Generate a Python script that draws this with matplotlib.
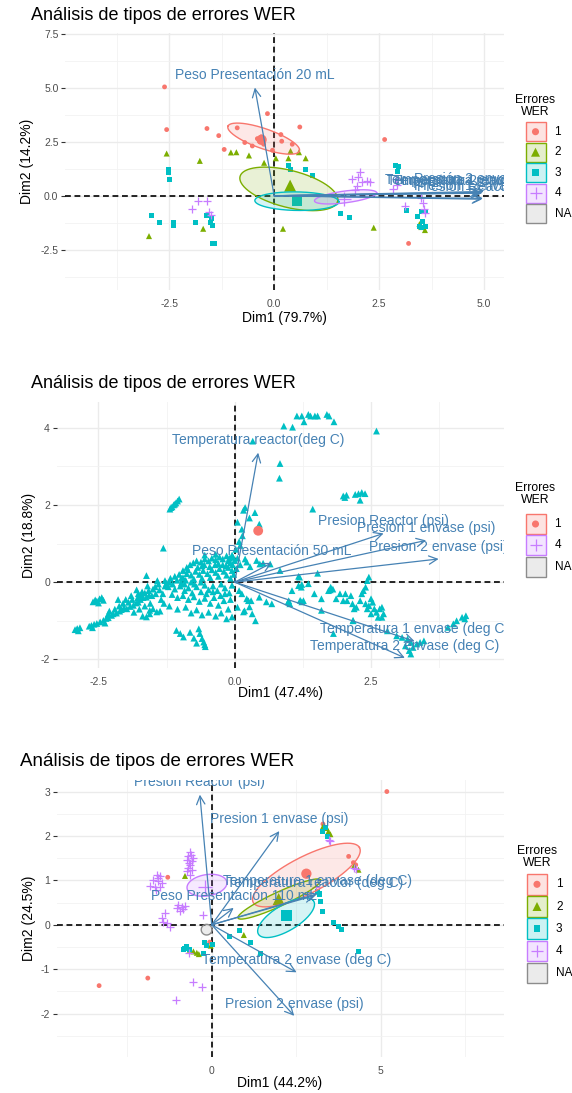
import numpy as np
import matplotlib
matplotlib.use("Agg")
import matplotlib.pyplot as plt
from matplotlib.patches import Rectangle
from matplotlib.colors import to_rgba

plt.rcParams['font.family'] = ['Liberation Sans', 'DejaVu Sans']

W, H = 572, 1093
RED, GREEN, CYAN, PURPLE = '#F8766D', '#7CAE00', '#00BFC4', '#C77CFF'
ARROW = '#4682B4'
NA_GREY = '#8C8C8C'

title = "Análisis de tipos de errores WER"

# ---------------- panel 1 data ----------------
p1_xlabel = "Dim1 (79.7%)"
p1_ylabel = "Dim2 (14.2%)"
p1_xticks = [-2.5, 0.0, 2.5, 5.0]
p1_xticklabels = ["-2.5", "0.0", "2.5", "5.0"]
p1_yticks = [-2.5, 0.0, 2.5, 5.0, 7.5]
p1_yticklabels = ["-2.5", "0.0", "2.5", "5.0", "7.5"]
p1_groups = ["1", "2", "3", "4"]

p1_g1 = [(-2.61, 5.05), (-2.56, 3.07), (-1.60, 3.12), (-1.32, 2.79), (-1.19, 2.15), (-0.88, 3.15),
         (-0.70, 2.47), (-0.52, 2.31), (-0.40, 2.65), (-0.34, 2.50), (-0.28, 2.58), (-0.31, 2.73),
         (-0.25, 2.39), (-0.16, 3.81), (-0.04, 2.11), (0.16, 2.84), (0.18, 2.53), (0.43, 2.39),
         (0.61, 3.19), (2.63, 2.61), (3.20, -2.21)]
p1_g2 = [(-2.56, 1.96), (-1.77, 1.62), (-1.03, 2.01), (-0.90, 2.02), (-0.60, 1.87), (-0.24, 1.53),
         (0.04, 1.74), (0.34, 1.74), (0.39, 2.08), (0.59, 2.02), (0.75, 1.74), (-2.98, -1.87),
         (-1.69, -1.53), (0.21, -1.53), (2.37, -1.48), (3.46, -1.31), (3.59, -1.59), (3.50, -1.45)]
p1_g3 = [(-2.52, 1.23), (-2.52, 1.08), (-2.49, 0.77), (-2.92, -0.90), (-2.73, -1.22), (-2.40, -1.25),
         (-2.40, -1.40), (-1.88, -1.22), (-1.60, -0.90), (-1.50, -1.05), (-1.46, -1.36), (-1.51, -1.25),
         (-1.47, -2.21), (-1.42, -2.21), (0.35, 1.39), (0.38, 1.23), (0.75, 1.22), (0.92, 0.93),
         (1.59, -0.82), (1.79, -1.00), (2.89, 1.42), (2.97, 1.34), (2.93, 1.11), (3.15, -0.66),
         (3.41, -0.97), (3.50, -0.71), (3.60, -0.71), (3.46, -1.44), (3.50, -1.48), (3.54, -1.20),
         (3.60, -1.44)]
p1_g4 = [(-1.95, -0.59), (-1.81, -0.22), (-1.59, -0.22), (-1.55, -0.77), (-1.51, -0.90), (2.05, 1.11),
         (2.00, 0.88), (1.85, 0.76), (2.09, 0.65), (2.21, 0.68), (2.29, 0.65), (1.97, 0.45),
         (1.93, 0.26), (2.90, 0.76), (2.92, 0.50), (2.84, 0.30), (3.12, -0.48), (3.50, -0.10),
         (3.55, -0.35), (3.57, -0.60), (3.60, -0.80)]
p1_means = [(-0.30, 2.60), (0.38, 0.47), (0.54, -0.25), (1.66, -0.17)]
# ellipse: centre, first and second semi-axis vectors (data units)
p1_ell_c = [(-0.25, 2.65), (0.35, 0.32), (0.54, -0.25), (1.70, -0.05)]
p1_ell_u = [(-0.85, 0.58), (1.16, -0.59), (1.00, -0.03), (0.74, 0.19)]
p1_ell_v = [(-0.09, -0.43), (-0.13, -0.82), (0.00, 0.43), (0.02, -0.27)]
p1_var_names = ["Peso Presentación 20 mL", "Temperatura 1 envase (deg C)", "Temperatura 2 envase (deg C)",
                "Temperatura reactor (deg C)", "Presión 2 envase (psi)", "Presión 1 envase (psi)",
                "Presión Reactor (psi)"]
p1_var_x = [-0.46, 4.90, 4.93, 4.96, 4.99, 4.97, 4.95]
p1_var_y = [5.02, 0.16, 0.12, 0.14, 0.20, -0.12, -0.16]

# ---------------- panel 2 data ----------------
p2_xlabel = "Dim1 (47.4%)"
p2_ylabel = "Dim2 (18.8%)"
p2_xticks = [-2.5, 0.0, 2.5]
p2_xticklabels = ["-2.5", "0.0", "2.5"]
p2_yticks = [-2, 0, 2, 4]
p2_yticklabels = ["-2", "0", "2", "4"]
p2_groups = ["1", "4"]

p2_g1 = [(0.43, 1.33)]
p2_g4 = [
    (1.14, 4.30), (1.23, 4.30), (1.27, 4.15), (1.35, 4.34), (1.39, 4.30), (1.47, 4.30), (1.52, 4.30),
    (1.69, 4.34), (1.73, 4.30), (1.82, 4.15), (0.90, 4.04), (1.06, 4.01), (2.60, 3.91), (0.33, 3.65),
    (0.83, 3.07), (0.82, 2.69), (1.99, 2.23), (2.02, 2.19), (2.21, 2.27), (2.27, 2.29), (2.33, 2.32),
    (2.39, 2.29), (2.30, 2.12), (2.05, 2.25), (1.43, 1.89),
    (0.19, 1.93), (0.16, 1.86), (0.37, 1.80), (0.27, 1.66), (0.13, 1.37), (0.14, 1.20), (0.45, 1.50),
    (0.05, 1.55), (0.08, 1.05), (0.10, 0.95), (0.02, 0.85),
    (-1.19, 1.89), (-1.15, 1.95), (-1.12, 2.00), (-1.08, 2.05), (-1.05, 2.10), (-1.02, 2.15),
    (-1.17, 1.93), (-1.10, 2.02), (-1.31, 0.88),
    (-0.03, 0.64), (0.00, 0.56), (0.19, 0.60), (0.22, 0.52), (0.40, 0.56), (0.46, 0.47), (0.52, 0.49),
    (0.65, 0.47), (0.83, 0.30), (1.17, 0.15), (1.52, 0.23), (0.05, 0.62), (0.10, 0.45), (0.28, 0.40),
    (1.17, -0.09), (1.23, -0.06), (1.35, -0.04), (1.75, -0.20), (1.80, -0.18),
    (1.72, -0.22), (1.93, -0.30), (2.03, -0.30), (2.06, -0.48), (2.13, -0.35), (2.16, -0.56),
    (2.23, -0.65), (2.30, -0.48), (2.33, -0.30), (2.36, -0.22), (2.40, -0.13), (2.43, 0.04),
    (2.46, 0.13), (2.50, -0.43), (2.53, -0.52), (2.56, -0.69), (2.60, -0.78), (2.63, -0.91),
    (2.66, -0.69), (2.70, -0.65), (2.73, -0.82), (2.40, -0.56), (2.46, -0.61), (2.19, -0.69),
    (1.99, -0.48), (1.86, -0.43), (1.76, -0.13), (1.59, -0.43), (1.46, -0.30), (1.26, -0.48),
    (1.22, -0.13), (1.19, 0.13), (1.05, -0.22), (0.99, -0.48), (0.38, -1.00), (0.68, -0.56),
    (0.45, -0.39), (0.32, -0.82), (0.25, -0.48), (0.13, -0.30), (0.08, -0.22), (0.05, -0.65),
    (0.18, -0.74), (2.17, -1.00), (2.43, -0.69), (2.50, -0.82), (2.70, -0.91),
    (4.01, -1.08), (4.07, -1.00), (4.17, -0.91), (4.24, -0.87), (4.22, -0.95), (3.91, -1.17),
    (3.07, -1.43), (3.17, -1.47), (3.23, -1.56), (3.27, -1.69), (3.20, -1.77), (3.34, -1.60),
    (3.40, -1.56), (3.13, -1.65), (3.23, -1.86), (3.47, -1.52), (2.97, -1.39), (2.80, -1.26),
    (1.81, -1.33), (1.59, -0.73), (2.17, -0.99), (1.01, -0.56), (0.98, -0.51), (1.20, -0.47),
    (1.23, -0.51), (0.22, -0.43), (0.30, -0.48), (0.27, -0.64), (0.16, -0.77), (0.58, -0.51),
    (-2.93, -1.23), (-2.89, -1.20), (-2.84, -1.18), (-2.87, -1.26), (-2.67, -1.14), (-2.63, -1.12),
    (-2.58, -1.09), (-2.53, -1.07), (-2.61, -1.18), (-2.47, -1.03), (-2.41, -0.99), (-2.36, -0.94),
    (-2.32, -0.92), (-2.26, -0.86), (-2.23, -0.82), (-2.17, -0.80), (-2.11, -0.75), (-2.08, -0.71),
    (-2.03, -0.66), (-1.98, -0.69), (-1.92, -0.63), (-1.86, -0.60), (-1.81, -0.54), (-1.77, -0.52),
    (-1.73, -0.45), (-1.68, -0.40), (-1.62, -0.39), (-1.57, -0.34), (-1.56, -0.73), (-1.50, -0.69),
    (-1.43, -0.77), (-1.37, -0.75), (-1.56, -0.82), (-1.62, -0.90), (-1.69, -0.88), (-2.32, -0.82),
    (-2.38, -1.06),
    (-2.56, -0.46), (-2.53, -0.49), (-2.48, -0.43), (-2.44, -0.40), (-2.41, -0.47), (-2.50, -0.54),
    (-2.60, -0.51), (-2.14, -0.45), (-1.77, -0.30), (-1.62, 0.17), (-1.42, 0.04), (-1.28, 0.04),
    (-1.25, -0.03),
    (-0.82, 0.45), (-0.76, 0.50), (-0.70, 0.55), (-0.62, 0.52), (-0.55, 0.60), (-0.48, 0.55),
    (-0.42, 0.62), (-0.35, 0.58), (-0.28, 0.65), (-0.22, 0.60), (-0.15, 0.68), (-0.10, 0.62),
    (-0.05, 0.70), (-0.12, 0.55), (-0.30, 0.48), (-0.60, 0.42), (-0.88, 0.38), (-0.95, 0.30),
    (-1.10, 0.15), (-1.02, 0.20), (-0.95, 0.12), (-0.88, 0.22), (-0.80, 0.18), (-0.72, 0.28),
    (-0.65, 0.20), (-0.58, 0.30), (-0.50, 0.22), (-0.42, 0.32), (-0.35, 0.25), (-0.28, 0.35),
    (-0.20, 0.28), (-0.12, 0.38), (-0.05, 0.30), (-0.90, 0.05), (-0.75, 0.08), (-0.60, 0.10),
    (-0.45, 0.12), (-0.30, 0.15), (-0.15, 0.18), (-0.08, 0.10), (-1.18, 0.10), (-0.98, -0.02),
    (-1.22, -0.12), (-1.10, -0.18), (-1.00, -0.10), (-0.92, -0.22), (-0.85, -0.15), (-0.78, -0.28),
    (-0.70, -0.12), (-0.62, -0.25), (-0.55, -0.08), (-0.48, -0.20), (-0.40, -0.10), (-0.32, -0.22),
    (-0.25, -0.05), (-0.18, -0.15), (-0.10, -0.28), (-0.05, -0.08), (-1.15, -0.32), (-1.05, -0.40),
    (-0.95, -0.35), (-0.85, -0.45), (-0.75, -0.38), (-0.65, -0.50), (-0.55, -0.42), (-0.45, -0.55),
    (-0.38, -0.40), (-0.30, -0.60), (-0.20, -0.48), (-0.12, -0.70), (-0.08, -0.45),
    (-1.30, -0.55), (-1.20, -0.62), (-1.05, -0.70), (-0.90, -0.65), (-0.80, -0.80), (-0.70, -0.72),
    (-0.60, -0.85), (-0.48, -0.78), (-0.35, -0.88), (-0.25, -0.80), (-0.05, -0.90), (-0.15, -0.95),
    (-2.00, -0.45), (-1.90, -0.35), (-1.80, -0.20), (-1.70, -0.25), (-1.60, -0.10), (-1.50, -0.18),
    (-1.45, -0.30), (-1.40, -0.05), (-1.35, -0.45), (-1.55, -0.55), (-1.65, -0.62), (-1.75, -0.70),
    (-1.85, -0.78),
    (-1.07, -1.25), (-1.00, -1.33), (-0.94, -1.42), (-0.82, -1.30), (-0.66, -1.21), (-0.64, -1.33),
    (-0.60, -1.46), (-0.57, -1.55), (-0.54, -1.67), (-0.70, -1.58), (-0.75, -1.45), (-0.55, -1.62),
    (-2.30, -0.75), (-2.20, -0.70), (-2.12, -0.62), (-2.05, -0.55), (-1.95, -0.52), (-1.88, -0.45),
    (-1.78, -0.40), (-1.72, -0.33), (-1.65, -0.28), (-1.58, -0.22), (-1.52, -0.35), (-1.46, -0.12),
    (-1.38, -0.20), (-1.32, -0.30), (-1.28, -0.10), (-1.20, 0.00), (-1.14, -0.05), (-1.06, 0.05),
    (-0.98, 0.10), (-0.92, -0.05), (-0.86, 0.32), (-0.80, 0.00), (-0.74, -0.05), (-0.68, 0.38),
    (-0.62, 0.00), (-0.56, 0.45), (-0.52, -0.30), (-0.46, 0.40), (-0.40, -0.25), (-0.36, 0.45),
    (-0.26, -0.35), (-0.22, 0.45), (-0.18, -0.30), (-0.16, 0.42), (-0.08, 0.50), (-0.04, 0.45),
    (-0.02, 0.20), (0.03, 0.35), (-0.55, 0.70), (-0.35, 0.72),
]
p2_var_names = ["Temperatura reactor(deg C)", "Presion Reactor (psi)", "Presion 1 envase (psi)",
                "Presion 2 envase (psi)", "Peso Presentación 50 mL", "Temperatura 1 envase (deg C)",
                "Temperatura 2 envase (deg C)"]
p2_var_x = [0.43, 2.73, 3.51, 3.74, 0.68, 3.30, 3.12]
p2_var_y = [3.35, 1.26, 1.08, 0.60, 0.50, -1.53, -1.96]

# ---------------- panel 3 data ----------------
p3_xlabel = "Dim1 (44.2%)"
p3_ylabel = "Dim2 (24.5%)"
p3_xticks = [0, 5]
p3_xticklabels = ["0", "5"]
p3_yticks = [-2, -1, 0, 1, 2, 3]
p3_yticklabels = ["-2", "-1", "0", "1", "2", "3"]
p3_groups = ["1", "2", "3", "4"]

p3_g1 = [(5.18, 3.00), (3.29, 2.27), (4.05, 1.54), (4.19, 1.40), (4.26, 1.35), (-1.30, 1.07),
         (-1.89, -1.20), (-3.33, -1.37), (-0.06, -0.39)]
p3_g2 = [(-0.79, 1.10), (3.29, 2.21), (3.40, 2.18), (3.51, 2.04), (3.45, 2.10), (4.21, 1.33),
         (4.34, 1.24), (0.95, -0.23), (-0.65, -0.56), (-0.54, -0.60), (-0.44, -0.63), (-0.38, -0.66),
         (-0.03, -0.47)]
p3_g3 = [(-0.84, -0.56), (-0.79, -0.54), (-0.74, -0.50), (-0.65, -0.55), (-0.23, -0.64), (-0.20, -0.39),
         (-0.15, -0.46), (0.03, -0.45), (0.52, -0.26), (0.82, -0.13), (1.15, -0.39), (1.43, -0.64),
         (3.27, 2.10), (3.42, 1.98), (3.38, 2.18), (3.18, 0.71), (3.20, 0.68), (3.22, 0.53),
         (3.13, 0.75), (3.28, 0.30), (3.60, 0.05), (3.75, -0.04), (3.85, -0.11), (4.34, -0.60)]
p3_g4 = [(-0.64, 1.65), (-0.69, 1.54), (-0.74, 1.46), (-0.59, 1.43), (-0.54, 1.50), (-0.64, 1.35),
         (-0.69, 1.28), (-0.59, 1.24), (-0.74, 1.20), (-0.64, 1.13), (-0.60, 1.58), (-0.66, 1.38),
         (-1.63, 1.13), (-1.53, 1.09), (-1.73, 1.01), (-1.58, 0.98), (-1.48, 0.94), (-1.83, 0.88),
         (-1.68, 0.85), (-1.53, 0.85), (-1.65, 0.79), (-1.60, 1.05),
         (-0.99, 0.45), (-0.89, 0.41), (-0.84, 0.35), (-0.94, 0.32), (-1.04, 0.38), (-0.79, 0.43),
         (-1.38, 0.26), (-1.48, 0.15), (-1.33, 0.04), (-1.23, -0.04), (-1.43, 0.07),
         (-0.27, 0.23), (-0.54, -1.29), (-0.30, -1.39), (-1.06, -1.69), (-0.66, -0.64),
         (4.21, 1.28), (4.26, 1.25), (3.46, 1.91), (3.51, 1.88), (3.08, 0.86)]
p3_means = [(2.80, 1.15), (1.98, 0.58), (2.21, 0.21), (-0.20, 0.86)]
p3_ell_c = [(2.80, 1.12), (2.00, 0.58), (2.20, 0.16), (-0.14, 0.89), (-0.15, -0.11)]
p3_ell_u = [(1.57, 0.62), (1.22, 0.43), (0.80, 0.39), (0.59, 0.06), (0.16, 0.00)]
p3_ell_v = [(0.27, -0.36), (0.10, -0.14), (0.26, -0.22), (0.02, -0.24), (0.00, 0.12)]
p3_var_names = ["Presion Reactor (psi)", "Presion 1 envase (psi)", "Temperatura 1 envase (deg C)",
                "Temperatura reactor (deg C)", "Peso Presentación 110 mL", "Temperatura 2 envase (deg C)",
                "Presion 2 envase (psi)"]
p3_var_x = [-0.35, 2.00, 3.13, 3.05, 0.65, 2.51, 2.44]
p3_var_y = [2.93, 2.11, 0.70, 0.66, 0.38, -1.07, -2.05]

MARKERS = {"1": ("o", RED), "2": ("^", GREEN), "3": ("s", CYAN), "4": ("+", PURPLE)}
SMALL = {"o": 12, "^": 19, "s": 13, "+": 28}
BIG = {"o": 55, "^": 75, "s": 55, "+": 90}


fig = plt.figure(figsize=(W / 100, H / 100), dpi=100)
lg = fig.add_axes([0, 0, 1, 1], facecolor='none')
lg.set_xlim(0, W)
lg.set_ylim(H, 0)
lg.axis('off')


def make_axes(left, right, top, bottom):
    return fig.add_axes([left / W, 1 - bottom / H, (right - left) / W, (bottom - top) / H])


def style_axes(ax, xlim, ylim, xticks, xlabels, yticks, ylabels, xminor, yminor):
    ax.set_xlim(*xlim)
    ax.set_ylim(*ylim)
    ax.set_xticks(xticks)
    ax.set_xticklabels(xlabels)
    ax.set_yticks(yticks)
    ax.set_yticklabels(ylabels)
    ax.set_xticks(xminor, minor=True)
    ax.set_yticks(yminor, minor=True)
    ax.grid(True, which='major', color='#EBEBEB', lw=1.0)
    ax.grid(True, which='minor', color='#F2F2F2', lw=0.6)
    ax.set_axisbelow(True)
    for s in ax.spines.values():
        s.set_visible(False)
    ax.tick_params(axis='x', which='both', length=0, pad=6.5, labelsize=7.5, labelcolor='#4D4D4D')
    ax.tick_params(axis='y', which='major', length=2.7, width=0.8, color='#333333', pad=2.0,
                   labelsize=7.5, labelcolor='#4D4D4D')
    ax.tick_params(axis='y', which='minor', length=0)
    ax.axhline(0, color='black', ls=(0, (3.5, 2.2)), lw=1.2, zorder=1.5)
    ax.axvline(0, color='black', ls=(0, (3.5, 2.2)), lw=1.2, zorder=1.5)


def draw_points(ax, pts, group, big=False):
    mk, col = MARKERS[group]
    arr = np.array(pts)
    size = BIG[mk] if big else SMALL[mk]
    if mk == "+":
        ax.scatter(arr[:, 0], arr[:, 1], marker=mk, s=size, c=col, linewidths=0.9, zorder=3)
    else:
        ax.scatter(arr[:, 0], arr[:, 1], marker=mk, s=size, c=col, edgecolors='none', zorder=3)


def draw_ellipse(ax, c, u, v, col):
    t = np.linspace(0, 2 * np.pi, 200)
    ex = c[0] + u[0] * np.cos(t) + v[0] * np.sin(t)
    ey = c[1] + u[1] * np.cos(t) + v[1] * np.sin(t)
    ax.fill(ex, ey, facecolor=col, alpha=0.16, edgecolor='none', zorder=3.2)
    ax.plot(ex, ey, color=col, lw=1.0, zorder=3.3)


def draw_vars(ax, names, xs, ys):
    for name, x, y in zip(names, xs, ys):
        ax.annotate('', xy=(x, y), xytext=(0, 0),
                    arrowprops=dict(arrowstyle='->,head_length=0.6,head_width=0.3', color=ARROW,
                                    lw=0.9, shrinkA=0, shrinkB=0, mutation_scale=10), zorder=4)
        ax.annotate(name, xy=(x, y), xytext=(0, 8.8), textcoords='offset points', ha='center',
                    va='center', fontsize=10, color=ARROW, clip_on=True, zorder=5)


def draw_legend(cx, title_y, key_y0, step, labels):
    lg.text(cx, title_y, "Errores\nWER", ha='center', va='center', fontsize=8.8, linespacing=1.0)
    box = step - 1.5
    for i, lab in enumerate(labels + ["NA"]):
        ky = key_y0 + i * step
        if lab == "NA":
            lg.add_patch(Rectangle((cx - 10, ky - box / 2), 20, box, facecolor='#EBEBEB',
                                   edgecolor=NA_GREY, lw=1.0))
        else:
            mk, col = MARKERS[lab]
            lg.add_patch(Rectangle((cx - 10, ky - box / 2), 20, box, facecolor=to_rgba(col, 0.2),
                                   edgecolor=col, lw=1.0))
            sz = {"o": 26, "^": 42, "s": 24, "+": 64}[mk]
            if mk == "+":
                lg.scatter([cx], [ky], marker=mk, s=sz, c=col, linewidths=0.9)
            else:
                lg.scatter([cx], [ky], marker=mk, s=sz, c=col, edgecolors='none')
        lg.text(cx + 19, ky, lab, ha='left', va='center', fontsize=8.5)


# ---------------- panel 1 ----------------
ax1 = make_axes(65, 503.5, 33, 290)
style_axes(ax1, (-4.98, 5.46), (-4.37, 7.55), p1_xticks, p1_xticklabels, p1_yticks, p1_yticklabels,
           [-3.75, -1.25, 1.25, 3.75], [-3.75, -1.25, 1.25, 3.75, 6.25])
for g, pts in zip(p1_groups, [p1_g1, p1_g2, p1_g3, p1_g4]):
    draw_points(ax1, pts, g)
for g, c, u, v in zip(p1_groups, p1_ell_c, p1_ell_u, p1_ell_v):
    draw_ellipse(ax1, c, u, v, MARKERS[g][1])
for g, m in zip(p1_groups, p1_means):
    draw_points(ax1, [m], g, big=True)
draw_vars(ax1, p1_var_names, p1_var_x, p1_var_y)
lg.text(31, 15, title, fontsize=13, ha='left', va='center')
lg.text(284, 318, p1_xlabel, fontsize=10, ha='center', va='center')
lg.text(27.5, 161, p1_ylabel, fontsize=10, ha='center', va='center', rotation=90)
draw_legend(535.5, 106, 131.7, 20.5, p1_groups)

# ---------------- panel 2 ----------------
ax2 = make_axes(56.5, 503.5, 401.7, 668.3)
style_axes(ax2, (-3.27, 4.93), (-2.23, 4.67), p2_xticks, p2_xticklabels, p2_yticks, p2_yticklabels,
           [-1.25, 1.25, 3.75], [-1, 1, 3])
arr = np.array(p2_g4)
ax2.scatter(arr[:, 0], arr[:, 1], marker='^', s=24, c=CYAN, edgecolors='none', zorder=3)
arr = np.array(p2_g1)
ax2.scatter(arr[:, 0], arr[:, 1], marker='o', s=50, c=RED, edgecolors='none', zorder=3)
draw_vars(ax2, p2_var_names, p2_var_x, p2_var_y)
lg.text(31, 383.5, title, fontsize=13, ha='left', va='center')
lg.text(280, 693, p2_xlabel, fontsize=10, ha='center', va='center')
lg.text(28.5, 535, p2_ylabel, fontsize=10, ha='center', va='center', rotation=90)
draw_legend(535.5, 494, 524, 21.3, p2_groups)

# ---------------- panel 3 ----------------
ax3 = make_axes(56.5, 503.5, 780, 1056.7)
style_axes(ax3, (-4.59, 8.63), (-2.97, 3.26), p3_xticks, p3_xticklabels, p3_yticks, p3_yticklabels,
           [-2.5, 2.5, 7.5], [-2.5, -1.5, -0.5, 0.5, 1.5, 2.5])
for g, pts in zip(p3_groups, [p3_g1, p3_g2, p3_g3, p3_g4]):
    draw_points(ax3, pts, g)
for i, (c, u, v) in enumerate(zip(p3_ell_c, p3_ell_u, p3_ell_v)):
    col = MARKERS[p3_groups[i]][1] if i < len(p3_groups) else NA_GREY
    draw_ellipse(ax3, c, u, v, col)
for g, m in zip(p3_groups, p3_means):
    draw_points(ax3, [m], g, big=True)
draw_vars(ax3, p3_var_names, p3_var_x, p3_var_y)
lg.text(20, 761.5, title, fontsize=13.5, ha='left', va='center')
lg.text(280, 1083, p3_xlabel, fontsize=10, ha='center', va='center')
lg.text(28.5, 918, p3_ylabel, fontsize=10, ha='center', va='center', rotation=90)
draw_legend(537, 857.5, 884.3, 22.2, p3_groups)

fig.savefig("out.png", dpi=100)
